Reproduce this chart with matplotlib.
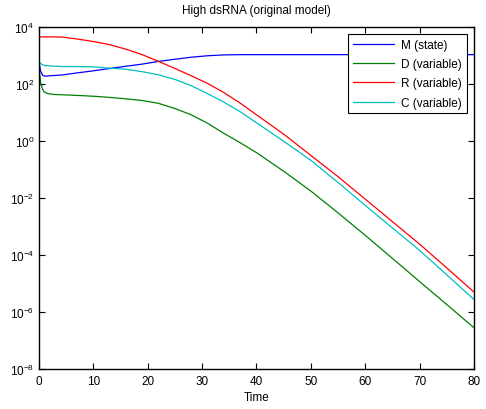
import matplotlib
matplotlib.use("Agg")
import matplotlib.pyplot as plt

plt.rcParams['font.family'] = ['Liberation Sans', 'DejaVu Sans']
plt.rcParams['mathtext.default'] = 'regular'

# values (log scale)
t = [0, 0.3, 0.7, 1, 1.5, 2, 3, 4.5, 7, 10, 13, 16, 19, 22, 25, 28, 31, 34, 37,
     40, 45, 50, 55, 60, 65, 70, 75, 80]

M = [6.2e2, 2.8e2, 2.0e2, 1.9e2, 1.9e2, 1.95e2, 2.0e2, 2.1e2, 2.45e2, 2.9e2,
     3.5e2, 4.2e2, 5.0e2, 6.2e2, 7.4e2, 8.7e2, 9.8e2, 1.05e3, 1.07e3,
     1.07e3, 1.07e3, 1.07e3, 1.07e3, 1.07e3, 1.07e3, 1.07e3, 1.07e3, 1.07e3]

D = [4.0e2, 1.12e2, 63, 52.5, 46.8, 44.7, 42.7, 41.7, 39.8, 37.2, 33.9, 30.2,
     26.3, 20.9, 13.8, 8.3, 4.2, 1.86, 0.87, 0.39, 0.087, 0.0175, 3.0e-3,
     4.9e-4, 7.6e-5, 1.17e-5, 1.82e-6, 2.8e-7]

R = [4.5e3, 4.5e3, 4.5e3, 4.5e3, 4.5e3, 4.5e3, 4.5e3, 4.4e3, 3.8e3, 3.1e3,
     2.4e3, 1.66e3, 1.07e3, 6.2e2, 3.5e2, 1.95e2, 1.05e2, 50, 21.4, 8.3,
     1.74, 0.31, 0.056, 9.1e-3, 1.48e-3, 2.4e-4, 3.5e-5, 5.0e-6]

C = [6.3e2, 5.2e2, 4.7e2, 4.5e2, 4.4e2, 4.3e2, 4.2e2, 4.1e2, 4.1e2, 4.0e2,
     3.6e2, 3.3e2, 2.7e2, 2.1e2, 1.45e2, 87, 46, 23, 10.7, 4.37, 0.98, 0.21,
     0.035, 5.5e-3, 8.9e-4, 1.45e-4, 2.0e-5, 2.75e-6]

labels = ['M (state)', 'D (variable)', 'R (variable)', 'C (variable)']
colors = ['#0000ff', '#008000', '#ff0000', '#00bfbf']

fig = plt.figure(figsize=(4.86, 4.10), dpi=100)
ax = fig.add_axes([0.0802, 0.0976, 0.8951, 0.8341])

for y, lab, col in zip([M, D, R, C], labels, colors):
    ax.plot(t, y, color=col, linewidth=0.9, label=lab)

ax.set_yscale('log')
ax.set_xlim(0, 80)
ax.set_ylim(1e-8, 1e4)
ax.set_xticks(range(0, 81, 10))
ax.set_yticks([1e-8, 1e-6, 1e-4, 1e-2, 1e0, 1e2, 1e4])
ax.minorticks_off()
ax.tick_params(direction='in', top=True, right=True, labelsize=8.5,
               length=4, width=0.8)
ax.tick_params(axis='x', pad=4.5)
for s in ax.spines.values():
    s.set_linewidth(1.0)

ax.set_title('High dsRNA (original model)', fontsize=8.5, pad=10)
ax.set_xlabel('Time', fontsize=8.5, labelpad=3)

leg = ax.legend(loc='upper right', fontsize=8.5, fancybox=False,
                framealpha=1, edgecolor='black', handlelength=3.5,
                handletextpad=0.6, borderaxespad=0.6, labelspacing=0.62)
leg.get_frame().set_linewidth(0.8)

fig.savefig('out.png', dpi=100)
